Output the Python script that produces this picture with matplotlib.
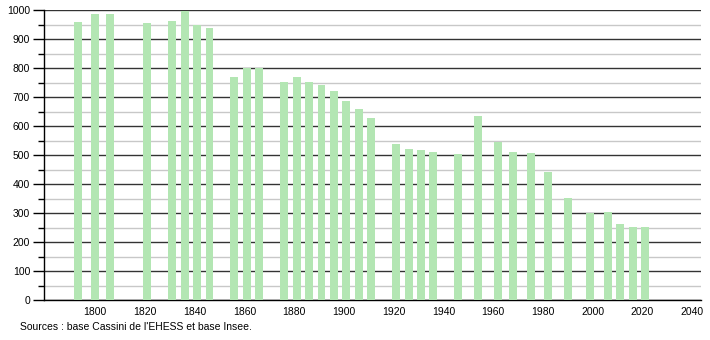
import matplotlib
matplotlib.use('Agg')
import matplotlib.pyplot as plt
from matplotlib.ticker import MultipleLocator

# Recensements
annees = [1793, 1800, 1806, 1821, 1831, 1836, 1841, 1846, 1856, 1861, 1866,
          1876, 1881, 1886, 1891, 1896, 1901, 1906, 1911, 1921, 1926, 1931,
          1936, 1946, 1954, 1962, 1968, 1975, 1982, 1990, 1999, 2006, 2011,
          2016, 2021]
population = [959, 986, 986, 954, 962, 998, 947, 938, 769, 800, 800,
              752, 769, 752, 741, 721, 686, 659, 628, 538, 521, 517,
              510, 503, 634, 546, 511, 507, 440, 352, 299, 303, 262,
              251, 251]
ticks_x = list(range(1800, 2041, 20))
source = "Sources : base Cassini de l'EHESS et base Insee."

plt.rcParams['font.family'] = ['Liberation Sans', 'DejaVu Sans']

fig = plt.figure(figsize=(7.1, 3.4), dpi=100)
ax = fig.add_axes([44/710, 40/340, 657/710, 290/340])

ax.bar(annees, population, width=3.2, color='#b3e6b3', zorder=3)

ax.set_xlim(1779.5, 2043.5)
ax.set_ylim(0, 1000)
ax.set_xticks(ticks_x)
ax.yaxis.set_major_locator(MultipleLocator(100))
ax.yaxis.set_minor_locator(MultipleLocator(50))

ax.grid(axis='y', which='major', color='#333333', linewidth=1, zorder=1)
ax.grid(axis='y', which='minor', color='#c8c8c8', linewidth=1, zorder=1)

for s in ['top', 'right']:
    ax.spines[s].set_visible(False)
ax.spines['left'].set_linewidth(1)
ax.spines['bottom'].set_linewidth(1)

ax.tick_params(axis='y', which='major', length=8, width=1, labelsize=7.5, pad=2)
ax.tick_params(axis='y', which='minor', length=4, width=1)
ax.tick_params(axis='x', length=0, labelsize=7.5, pad=5)

fig.text(20/710, 1 - 327/340, source, fontsize=7.5, va='center', ha='left')

plt.savefig('out.png', dpi=100)
plt.close()
